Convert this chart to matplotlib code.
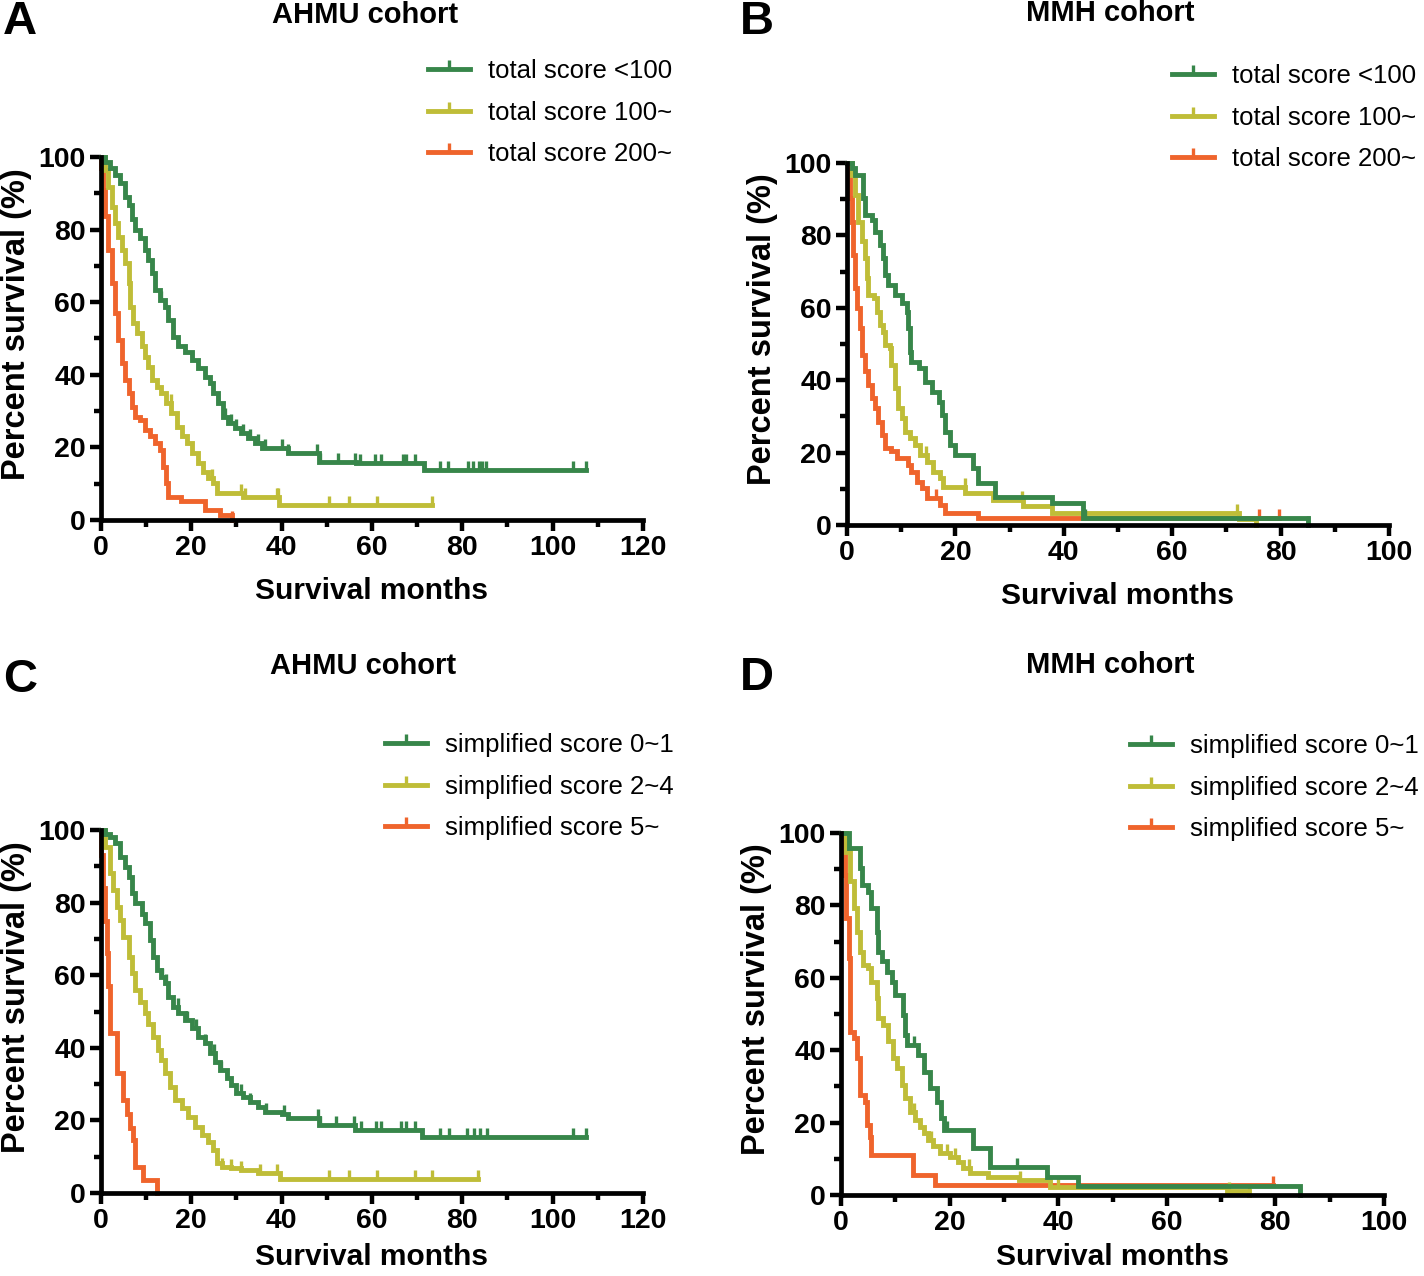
import numpy as np
import matplotlib
matplotlib.use("Agg")
from matplotlib import pyplot as plt
from matplotlib.lines import Line2D
from matplotlib.path import Path
from matplotlib.ticker import MultipleLocator

plt.rcParams['font.family'] = ['Liberation Sans', 'DejaVu Sans']
plt.rcParams['font.weight'] = 'bold'

GREEN = "#37864a"
YELLOW = "#bfbd38"
ORANGE = "#ef642c"

# ---- panel A: AHMU, total score ----
A_low_t = [0, 1.0, 2.0, 3.1, 4.2, 5.3, 6.1, 6.8, 7.5, 8.6, 9.7, 10.5, 11.2, 12.0, 13.1, 14.2, 14.9, 16.0, 17.1,
           18.6, 20.1, 21.5, 23.0, 24.1, 24.9, 26.0, 27.1, 28.2, 29.7, 31.1, 32.6, 34.1, 35.6, 41.5, 48.3, 56.4,
           71.5, 107.5]
A_low_s = [100, 98.5, 97, 95, 92.7, 89, 86.8, 83, 80, 77.6, 74.4, 71.6, 68, 63.4, 60.6, 58.8, 55, 50.5, 47.8,
           46.4, 44.1, 41.8, 39.5, 37.6, 34.9, 32.1, 28.5, 26.6, 25.3, 23.9, 22.5, 21.1, 19.7, 18.4, 16.1, 15.6,
           13.8, 13.8]
A_low_c = [13.4, 17.1, 20.1, 26.0, 27.5, 28.9, 30.0, 31.5, 33.0, 34.8, 36.3, 40.0, 41.5, 47.9, 48.4, 52.4, 56.3,
           57.4, 60.6, 62.1, 66.8, 67.5, 69.5, 75.0, 76.9, 81.2, 82.4, 83.6, 84.4, 85.3, 104.6, 107.5]

A_mid_t = [0, 0.9, 1.6, 2.4, 3.1, 3.8, 4.6, 5.3, 6.1, 6.4, 7.2, 7.9, 9.0, 9.7, 10.5, 11.2, 12.3, 13.4, 14.5,
           15.6, 16.8, 17.9, 19.0, 20.1, 21.5, 22.7, 23.8, 24.9, 25.6, 31.5, 39.5, 73.2]
A_mid_s = [100, 96.4, 91.8, 86.3, 81.7, 78, 74.4, 70.7, 65.2, 58.8, 54.2, 51.4, 47.8, 45, 42.2, 38.6, 36.7, 34.9,
           32.1, 29.4, 25.7, 23, 21.1, 18.4, 15.6, 13.3, 11.5, 10.1, 7.3, 6.4, 4.1, 4.1]
A_mid_c = [15.5, 24.5, 31.1, 32.0, 38.9, 39.3, 50.5, 55.0, 61.2, 73.2]

A_high_t = [0, 0.1, 0.5, 0.9, 1.6, 2.4, 3.1, 3.8, 4.6, 5.3, 6.1, 6.8, 7.5, 8.6, 9.7, 10.8, 12.0, 13.1, 13.8,
            14.5, 14.9, 17.8, 23.0, 26.3, 29.0]
A_high_s = [100, 97, 91, 83.6, 74.4, 65.2, 57, 49.6, 43.2, 38.6, 34.9, 31.2, 28.5, 27.5, 24.8, 23, 21.1, 19.3,
            14.7, 10.1, 6.4, 5.1, 2.8, 1.4, 0]
A_high_c = [29.0]

# ---- panel B: MMH, total score ----
B_low_t = [0, 1.0, 1.5, 3.0, 3.3, 4.6, 5.2, 6.1, 6.7, 7.0, 7.6, 8.9, 10.1, 11.0, 11.3, 11.6, 11.9, 13.2, 14.4,
           15.6, 16.9, 17.5, 18.1, 19.0, 19.9, 23.3, 24.2, 27.3, 37.9, 43.6, 85.0]
B_low_s = [100, 98.5, 96.7, 90.2, 85.6, 84.3, 81, 77.3, 73.7, 69, 66.3, 63.5, 61.2, 58.9, 54.3, 47.9, 45.1,
           43.3, 39.6, 36.8, 34.1, 30.4, 25.8, 22.1, 19.3, 15.7, 11.5, 7.8, 6.0, 1.8, 0]
B_low_c = [44.0, 85.0]

B_mid_t = [0, 0.9, 1.5, 2.1, 2.7, 3.3, 3.6, 3.9, 4.9, 5.5, 6.1, 6.7, 7.0, 7.9, 8.2, 8.9, 9.5, 10.1, 10.7, 11.6,
           12.5, 13.5, 14.7, 15.9, 17.2, 17.8, 21.8, 27.0, 32.5, 37.8, 72.3, 75.5]
B_mid_s = [100, 96.7, 91.2, 83.8, 78.3, 73.7, 68.1, 63.5, 62.6, 58.9, 55.2, 53.4, 49.7, 48.8, 44.2, 37.8, 32.2,
           29.5, 25.8, 23.9, 22.1, 19.3, 17.5, 14.7, 12.9, 10.6, 8.7, 6.9, 5.1, 3.2, 1.6, 0]
B_mid_c = [14.6, 21.7, 32.2, 72.0, 75.5]

B_high_t = [0, 0.2, 0.6, 0.9, 1.2, 1.5, 1.8, 2.4, 2.7, 3.3, 3.9, 4.6, 5.2, 5.8, 6.4, 7.0, 8.2, 9.2, 11.3, 11.9,
            12.9, 13.8, 14.7, 17.2, 18.1, 24.2, 79.7]
B_high_s = [100, 96.7, 90.2, 83.8, 74.6, 65.4, 59.9, 54.3, 47, 42.4, 38.7, 35, 32.2, 28.5, 24.9, 21.2, 20.3, 18.4,
            16.6, 14.7, 12, 10.1, 7.4, 5.5, 3.2, 1.8, 1.8]
B_high_c = [16.5, 76.0, 79.7]

# ---- panel C: AHMU, simplified score ----
C_low_t = [0, 1.0, 2.0, 3.1, 4.2, 5.3, 6.1, 6.8, 7.5, 9.0, 9.7, 10.8, 11.6, 12.3, 13.4, 14.2, 14.9, 16.0, 17.1,
           18.6, 20.1, 21.5, 23.0, 24.1, 25.2, 26.3, 27.8, 28.9, 30.0, 31.5, 33.0, 34.8, 36.3, 40.0, 41.5, 48.3,
           56.3, 71.0, 107.5]
C_low_s = [100, 99, 98.2, 96.3, 92.7, 89.9, 87.1, 82.6, 79.8, 77, 74.3, 69.7, 65.1, 61.4, 59.6, 57.8, 54.1, 51.3,
           49.5, 47.7, 45.4, 43.1, 41.2, 38.5, 36.2, 33.9, 31.6, 29.8, 27.5, 26.5, 25.2, 23.8, 22.4, 21.9, 20.6,
           18.7, 17.4, 15.5, 15.5]
C_low_c = [13.5, 14.3, 17.0, 19.0, 21.0, 23.0, 25.0, 26.5, 28.0, 31.0, 33.0, 36.5, 40.5, 48.0, 48.5, 52.0, 56.0,
           57.5, 61.0, 62.0, 66.5, 67.5, 69.5, 75.0, 77.0, 81.0, 82.5, 84.0, 85.5, 104.5, 107.5]

C_mid_t = [0, 0.9, 2.0, 2.7, 3.5, 4.2, 4.9, 6.1, 6.8, 7.5, 8.6, 9.7, 10.5, 11.6, 12.7, 13.4, 14.2, 15.3, 16.4,
           17.9, 19.3, 20.8, 22.3, 23.8, 24.9, 25.6, 26.7, 28.9, 31.1, 34.8, 39.6, 83.5]
C_mid_s = [100, 95.4, 88.1, 83.5, 78.9, 75.2, 70.6, 65.1, 60.5, 55.9, 52.7, 49.5, 46.7, 43.1, 39.4, 36.6, 33,
           29.3, 25.6, 23.3, 21, 18.3, 16, 14.1, 11.8, 8.2, 7.3, 6.8, 6.3, 5.4, 4.0, 4.0]
C_mid_c = [26.7, 28.9, 31.1, 35.2, 39.0, 50.5, 55.0, 61.1, 69.6, 73.2, 83.5]

C_high_t = [0, 0.1, 0.5, 0.9, 1.3, 1.6, 2.0, 3.5, 4.9, 5.7, 6.4, 7.1, 7.5, 9.4, 12.3]
C_high_s = [100, 93, 84, 75, 66, 57, 44, 33, 25.6, 21.9, 18, 14.6, 7.3, 3.6, 0]
C_high_c = [12.3]

# ---- panel D: MMH, simplified score ----
D_low_t = [0, 1.4, 3.5, 3.8, 5.0, 5.6, 6.6, 6.9, 7.5, 8.4, 9.3, 9.9, 11.5, 11.8, 12.1, 14.2, 15.2, 16.4, 17.6,
           18.5, 18.9, 24.4, 27.4, 37.9, 43.7, 84.6]
D_low_s = [100, 95.8, 90.2, 85.6, 83.8, 79.2, 72.7, 67.2, 64.5, 61.7, 58.9, 55.2, 49.7, 44.2, 41.4, 38.7, 34.1,
           29.5, 25.8, 21.2, 18, 12.9, 7.6, 5.1, 2.5, 0]
D_low_c = [13.5, 19.5, 32.5, 84.6]

D_mid_t = [0, 1.0, 1.7, 2.3, 2.9, 3.5, 4.1, 5.0, 5.6, 6.6, 6.9, 7.8, 8.7, 9.6, 10.3, 11.2, 11.8, 12.7, 13.6, 14.5,
           15.2, 16.1, 17.0, 18.2, 20.1, 21.6, 22.5, 23.8, 27.1, 32.7, 38.5, 71.1, 75.1]
D_mid_s = [100, 94.8, 86.6, 79.2, 72.7, 67.2, 63.5, 62.6, 58.9, 54.3, 48.8, 47, 42.4, 37.8, 35, 30.4, 26.7, 23,
           20.7, 18.9, 17, 15.2, 13.4, 11.5, 10.6, 9.2, 7.4, 6.0, 5.1, 4.1, 2.2, 1.0, 0]
D_mid_c = [13.5, 16.5, 19.5, 21.0, 23.5, 33.0, 38.0, 40.0, 71.5, 75.1]

D_high_t = [0, 0.4, 0.7, 1.0, 1.4, 1.7, 2.3, 2.9, 3.5, 4.4, 4.7, 5.3, 5.6, 13.3, 17.3, 79.6]
D_high_s = [100, 96.7, 88.4, 76.4, 65.4, 45.1, 43.3, 37.8, 27.6, 25.8, 19.3, 16.1, 11, 5.5, 2.8, 2.8]
D_high_c = [79.6]

LABELS_TOTAL = ["total score <100", "total score 100~", "total score 200~"]
LABELS_SIMPLE = ["simplified score 0~1", "simplified score 2~4", "simplified score 5~"]

TICK = Path([(0, 0), (0, 1)], [Path.MOVETO, Path.LINETO])
LW = 3.5


def km(ax, t, s, cens, color):
    t = np.array(t, dtype=float)
    s = np.array(s, dtype=float)
    ax.step(t, s, where='post', color=color, lw=LW, clip_on=False, solid_joinstyle='miter')
    c = np.array(cens, dtype=float)
    idx = np.searchsorted(t, c, side='right') - 1
    ax.plot(c, s[idx], ls='none', marker=TICK, ms=13, mew=2.4, color=color, clip_on=False)


def setup(ax, xmax, xlab_y):
    ax.set_xlim(0, xmax)
    ax.set_ylim(0, 100)
    for sp in ['top', 'right']:
        ax.spines[sp].set_visible(False)
    for sp in ['left', 'bottom']:
        ax.spines[sp].set_linewidth(3.4)
    ax.xaxis.set_major_locator(MultipleLocator(20))
    ax.xaxis.set_minor_locator(MultipleLocator(10))
    ax.yaxis.set_major_locator(MultipleLocator(20))
    ax.yaxis.set_minor_locator(MultipleLocator(10))
    ax.tick_params(which='major', direction='out', length=8, width=3.2, labelsize=20.5, pad=3)
    ax.tick_params(which='minor', direction='out', length=5, width=3.2)
    ax.set_xlabel("Survival months", fontsize=21.5, weight='bold', va='baseline')
    ax.set_ylabel("Percent survival (%)", fontsize=23.5, weight='bold')
    ax.xaxis.set_label_coords(0.5, xlab_y)
    ax.yaxis.set_label_coords(-0.128, 0.54)


fig = plt.figure(figsize=(14.24, 12.76), dpi=100)

panels = [
    ([0.0709, 0.5925, 0.3806, 0.2845], 120, -0.218, "A", "AHMU cohort", LABELS_TOTAL,
     [(A_low_t, A_low_s, A_low_c), (A_mid_t, A_mid_s, A_mid_c), (A_high_t, A_high_s, A_high_c)],
     (0.014, 0.9828), (0.2563, 0.9882), (0.3006, 0.9535)),
    ([0.5948, 0.5886, 0.3806, 0.2837], 100, -0.218, "B", "MMH cohort", LABELS_TOTAL,
     [(B_low_t, B_low_s, B_low_c), (B_mid_t, B_mid_s, B_mid_c), (B_high_t, B_high_s, B_high_c)],
     (0.5316, 0.9828), (0.7795, 0.9898), (0.823, 0.9496)),
    ([0.0709, 0.0650, 0.3806, 0.2845], 120, -0.198, "C", "AHMU cohort", LABELS_SIMPLE,
     [(C_low_t, C_low_s, C_low_c), (C_mid_t, C_mid_s, C_mid_c), (C_high_t, C_high_s, C_high_c)],
     (0.014, 0.4671), (0.2549, 0.4780), (0.2704, 0.4253)),
    ([0.5906, 0.0635, 0.3813, 0.2837], 100, -0.193, "D", "MMH cohort", LABELS_SIMPLE,
     [(D_low_t, D_low_s, D_low_c), (D_mid_t, D_mid_s, D_mid_c), (D_high_t, D_high_s, D_high_c)],
     (0.5316, 0.4687), (0.7795, 0.4788), (0.7935, 0.4245)),
]

colors = [GREEN, YELLOW, ORANGE]
for rect, xmax, xlab_y, letter, title, labels, curves, lpos, tpos, legpos in panels:
    ax = fig.add_axes(rect)
    setup(ax, xmax, xlab_y)
    # low-risk curve drawn last so it sits on top like the original
    for (t, s, c), col in reversed(list(zip(curves, colors))):
        km(ax, t, s, c, col)
    handles = [Line2D([], [], color=col, lw=LW, marker=TICK, ms=13, mew=2.4) for col in colors]
    ax.legend(handles, labels, loc='upper left', bbox_to_anchor=legpos, bbox_transform=fig.transFigure,
              frameon=False, prop={'weight': 'normal', 'size': 18.5}, handlelength=1.65,
              handletextpad=0.7, labelspacing=0.68, borderpad=0, borderaxespad=0)
    fig.text(lpos[0], lpos[1], letter, ha='center', va='center', fontsize=34, weight='bold')
    fig.text(tpos[0], tpos[1], title, ha='center', va='center', fontsize=21, weight='bold')

fig.savefig("out.png", dpi=100)
